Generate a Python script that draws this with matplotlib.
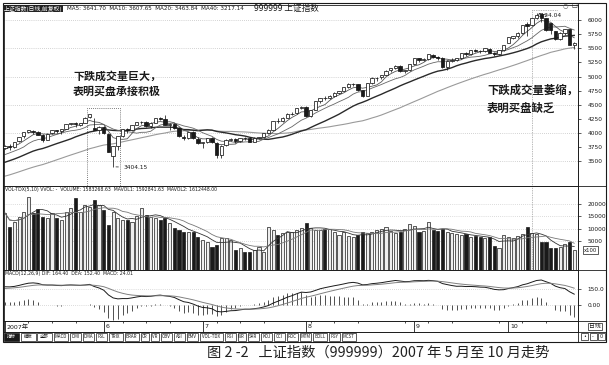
import numpy as np
import pandas as pd
import matplotlib
matplotlib.use('Agg')
import matplotlib.pyplot as plt
from matplotlib.patches import Rectangle
from matplotlib.ticker import MultipleLocator

plt.rcParams['font.family'] = ['DejaVu Sans', 'Noto Sans CJK SC']
CJK = ['Noto Sans CJK SC', 'DejaVu Sans']

# closes before the visible window, only used to warm up MA / MACD
pre_close = [2771.8, 2881.1, 2797.3, 2831.5, 2785.5, 2838.4, 2881.4, 2937.2, 2973.5, 3013.6,
             3015.5, 2906.3, 2937.0, 2864.3, 2949.4, 2999.8, 3057.4, 3071.3, 3092.8, 3171.6,
             3147.6, 3204.7, 3197.2, 3184.0, 3252.6, 3291.3, 3292.6, 3319.1, 3323.6, 3444.7,
             3492.6, 3446.7, 3444.7, 3444.4, 3519.3, 3612.3, 3612.0, 3449.0, 3584.2, 3710.4,
             3757.3, 3739.1]

# daily bars, 2007-04-26 .. 2007-10-26
opens = [3740, 3780, 3750, 3860, 3945, 4020, 4045, 4025, 3960, 3880,
         4000, 4050, 4030, 4075, 4170, 4180, 4150, 4180, 4280, 4087,
         4050, 4110, 3990, 3600, 3770, 3945, 4070, 4050, 4150, 4190,
         4200, 4120, 4185, 4270, 4255, 4145, 4160, 4090, 3940, 3915,
         4020, 3905, 3820, 3840, 3915, 3830, 3610, 3785, 3885, 3895,
         3855, 3915, 3915, 3850, 3915, 3930, 4000, 4060, 4215, 4210,
         4275, 4345, 4350, 4440, 4470, 4300, 4410, 4560, 4630, 4625,
         4665, 4710, 4750, 4810, 4870, 4865, 4760, 4660, 4885, 4975,
         4985, 5035, 5110, 5150, 5180, 5100, 5110, 5220, 5320, 5290,
         5310, 5390, 5350, 5330, 5170, 5280, 5295, 5320, 5420, 5400,
         5465, 5455, 5455, 5495, 5425, 5395, 5470, 5600, 5690, 5715,
         5770, 5930, 5905, 6040, 6100, 6030, 5940, 5800, 5665, 5775,
         5840, 5560]
highs = [3790, 3800, 3845, 3940, 4015, 4060, 4060, 4040, 3990, 4000,
         4055, 4060, 4075, 4170, 4185, 4190, 4185, 4280, 4335, 4275,
         4120, 4120, 4000, 3780, 3945, 4075, 4090, 4150, 4200, 4215,
         4210, 4190, 4270, 4290, 4312, 4180, 4175, 4110, 3970, 4020,
         4030, 3930, 3840, 3920, 3925, 3840, 3790, 3890, 3920, 3910,
         3920, 3930, 3925, 3930, 3940, 4000, 4065, 4215, 4260, 4280,
         4350, 4370, 4445, 4475, 4480, 4410, 4560, 4630, 4660, 4670,
         4720, 4750, 4820, 4880, 4880, 4870, 4770, 4885, 4990, 4995,
         5035, 5110, 5160, 5200, 5200, 5115, 5220, 5325, 5330, 5320,
         5395, 5400, 5360, 5340, 5290, 5320, 5330, 5425, 5440, 5470,
         5480, 5470, 5500, 5510, 5430, 5470, 5560, 5700, 5720, 5780,
         5920, 5960, 6040, 6124.04, 6110, 6040, 5950, 5810, 5780, 5850,
         5850, 5620]
lows = [3720, 3700, 3745, 3850, 3920, 4000, 3990, 3960, 3850, 3870,
        3990, 4010, 3990, 4070, 4140, 4110, 4120, 4175, 4260, 4050,
        3980, 3990, 3660, 3404.15, 3700, 3940, 4000, 4040, 4140, 4160,
        4100, 4090, 4180, 4230, 4140, 4060, 4080, 3930, 3870, 3900,
        3890, 3800, 3740, 3820, 3820, 3563, 3560, 3770, 3860, 3830,
        3850, 3880, 3840, 3845, 3890, 3910, 3980, 4055, 4180, 4200,
        4260, 4320, 4340, 4420, 4290, 4280, 4405, 4540, 4590, 4600,
        4640, 4690, 4740, 4800, 4840, 4750, 4640, 4650, 4870, 4930,
        4950, 5020, 5090, 5130, 5090, 5060, 5100, 5210, 5250, 5270,
        5300, 5320, 5290, 5160, 5120, 5260, 5270, 5310, 5370, 5390,
        5430, 5410, 5440, 5410, 5360, 5380, 5460, 5590, 5660, 5680,
        5760, 5720, 5900, 6010, 5960, 5800, 5750, 5650, 5640, 5730,
        5560, 5480]
closes = [3779, 3749, 3841, 3937, 4013, 4049, 4021, 3966, 3879, 3993,
          4051, 4030, 4072, 4169, 4181, 4154, 4179, 4275, 4334, 4053,
          4109, 4000, 3670, 3767, 3941, 4072, 4049, 4145, 4192, 4200,
          4120, 4183, 4269, 4252, 4146, 4160, 4091, 3941, 3914, 4019,
          3906, 3820, 3836, 3914, 3836, 3615, 3781, 3883, 3899, 3856,
          3915, 3914, 3851, 3912, 3930, 3999, 4058, 4213, 4210, 4275,
          4345, 4345, 4440, 4471, 4300, 4407, 4560, 4628, 4627, 4664,
          4711, 4749, 4811, 4872, 4870, 4765, 4656, 4882, 4977, 4981,
          5032, 5107, 5150, 5194, 5100, 5111, 5218, 5321, 5294, 5310,
          5393, 5355, 5335, 5172, 5283, 5294, 5321, 5421, 5399, 5466,
          5454, 5454, 5497, 5425, 5394, 5468, 5552, 5692, 5715, 5771,
          5913, 5903, 6030, 6092, 6036, 5825, 5818, 5667, 5773, 5843,
          5562, 5589]
# volume in the panel's own (x100) units
volumes = [16300, 10700, 12600, 14700, 16700, 22700, 16300, 17900, 14700, 14300,
           16300, 14300, 13500, 16700, 18300, 22300, 16700, 19500, 18700, 21500,
           19500, 17500, 11500, 16700, 14300, 13500, 13500, 12600, 15000, 18300,
           15500, 14700, 14300, 13500, 14300, 12200, 10200, 9400, 8600, 8600,
           8600, 6600, 5600, 4600, 2600, 3400, 6200, 6200, 5400, 1400,
           2200, 600, 600, 1400, 2600, 600, 10650, 9400, 7400, 8200,
           8600, 8600, 9400, 10500, 12200, 10200, 9400, 9400, 9800, 9800,
           8600, 7400, 8600, 7000, 6600, 7400, 8600, 8200, 8600, 9400,
           9800, 10650, 9000, 8200, 8600, 9800, 11800, 11000, 8600, 9000,
           12600, 9400, 9000, 9800, 8600, 8200, 7800, 7400, 7800, 6600,
           7000, 6600, 6200, 6600, 3000, 2200, 7400, 6600, 6200, 7000,
           8000, 10650, 8200, 7800, 4600, 4600, 2200, 2200, 2600, 3800,
           4600, 1400]

month_labels = ['2007年', '6', '7', '8', '9', '10']
month_starts = [0, 21, 42, 64, 87, 107]
price_ticks = list(range(3500, 6001, 250))
price_grid = list(range(3500, 6001, 500))
vol_ticks = [5000, 10000, 15000, 20000]
macd_ticks = [0, 150]
macd_labels = ['0.00', '150.0']
tab_names = ['指标', '模板', '全部', 'MACD', 'DMI', 'DMA', 'FSL', 'TRIX', 'BRAR', 'CR', 'VR',
             'OBV', 'ASI', 'EMV', 'VOL-TDX', 'RSI', 'WR', 'SAR', 'KDJ', 'CCI', 'ROC', 'MTM',
             'BOLL', 'PSY', 'MCST']

n = len(closes)
x = np.arange(n)
o, h, l, c = (np.array(a, dtype=float) for a in (opens, highs, lows, closes))
up = c >= o
k0 = len(pre_close)

full = pd.Series(pre_close + closes, dtype=float)
mas = {k: full.rolling(k).mean().to_numpy()[k0:] for k in (5, 10, 20, 40)}
dif_s = full.ewm(span=12, adjust=False).mean() - full.ewm(span=26, adjust=False).mean()
dea_s = dif_s.ewm(span=9, adjust=False).mean()
dif = dif_s.to_numpy()[k0:]
dea = dea_s.to_numpy()[k0:]
macd = 2 * (dif - dea)

vs = pd.Series(volumes, dtype=float)
mavol1 = vs.rolling(5, min_periods=1).mean()
mavol2 = vs.rolling(10, min_periods=1).mean()

W, H = 609, 365
fig = plt.figure(figsize=(W / 100, H / 100), dpi=100)
fig.patch.set_facecolor('white')


def px(x0, y0, x1, y1):
    return [x0 / W, 1 - y1 / H, (x1 - x0) / W, (y1 - y0) / H]


ax_p = fig.add_axes(px(4, 5, 578, 185.5))
ax_v = fig.add_axes(px(4, 185.5, 578, 269.5))
ax_m = fig.add_axes(px(4, 269.5, 578, 321))
ax_d = fig.add_axes(px(4, 321, 578, 331.5))

INK = '#1a1a1a'
for ax in (ax_p, ax_v, ax_m, ax_d):
    ax.set_xlim(-0.2, 121.8)
    ax.tick_params(axis='x', bottom=False, labelbottom=False)
    for s in ax.spines.values():
        s.set_linewidth(0.6)
        s.set_color(INK)
    ax.yaxis.tick_right()
    ax.tick_params(axis='y', labelsize=4.2, length=2, width=0.5, pad=5, colors=INK)

# price panel
ax_p.set_ylim(3074, 6266)
ax_p.set_yticks(price_ticks)
ax_p.set_yticklabels([str(t) for t in price_ticks])
ax_p.hlines(price_grid, -0.2, 121.8, colors='#aaaaaa', lw=0.5, linestyles=(0, (1, 2)), zorder=0)
ax_p.plot(x, mas[40], color='#9a9a9a', lw=0.8, zorder=1)
ax_p.plot(x, mas[20], color='#2a2a2a', lw=1.0, zorder=1)
ax_p.plot(x, mas[10], color='#666666', lw=0.6, zorder=1)
ax_p.plot(x, mas[5], color='#555555', lw=0.6, zorder=1)
ax_p.vlines(x, l, h, color=INK, lw=0.55, zorder=2)
ax_p.bar(x, np.abs(c - o), bottom=np.minimum(o, c), width=0.72,
         color=np.where(up, 'white', INK), edgecolor=INK, lw=0.55, zorder=3)

ax_p.add_patch(Rectangle((17.5, 3074), 7, 4440 - 3074, fill=False, ec='#555555',
                         lw=0.6, ls=(0, (1, 1.5)), zorder=4))
ax_p.plot([112.1, 112.1], [3074, 6180], color='#777777', lw=0.5, ls=(0, (1, 1.5)))
ax_p.plot([112.1, 117.5], [6180, 6180], color='#777777', lw=0.5, ls=(0, (1, 1.5)))
ax_p.annotate('6124.04', xy=(113, 6124.04), xytext=(113.3, 6075), fontsize=4.2, color=INK,
              va='center', arrowprops=dict(arrowstyle='-', lw=0.5, color=INK))
ax_p.annotate('3404.15', xy=(23, 3404.15), xytext=(25.3, 3395), fontsize=4.2, color=INK,
              va='center', arrowprops=dict(arrowstyle='-', lw=0.5, color=INK))

# volume panel (bars start at the panel floor)
VOL_FLOOR = -6300
ax_v.set_ylim(VOL_FLOOR, 27300)
ax_v.set_yticks(vol_ticks)
ax_v.set_yticklabels([str(t) for t in vol_ticks])
ax_v.hlines(vol_ticks, -0.2, 121.8, colors='#bbbbbb', lw=0.5, linestyles=(0, (1, 2)), zorder=0)
ax_v.bar(x, np.array(volumes) - VOL_FLOOR, bottom=VOL_FLOOR, width=0.66,
         color=np.where(up, '#eeeeee', INK), edgecolor=INK, lw=0.5, zorder=2)
ax_v.plot(x, mavol1, color='#333333', lw=0.6, zorder=3)
ax_v.plot(x, mavol2, color='#777777', lw=0.6, zorder=3)
ax_v.plot([112.1, 112.1], [VOL_FLOOR, 27300], color='#777777', lw=0.5, ls=(0, (1, 1.5)))

# MACD panel
ax_m.set_ylim(-150, 332)
ax_m.set_yticks(macd_ticks)
ax_m.set_yticklabels(macd_labels)
ax_m.hlines(macd_ticks, -0.2, 121.8, colors='#bbbbbb', lw=0.5, linestyles=(0, (1, 2)), zorder=0)
ax_m.vlines(x, 0, macd, color='#333333', lw=0.6)
ax_m.plot(x, dif, color=INK, lw=0.7)
ax_m.plot(x, dea, color='#808080', lw=0.7)

# date row
ax_d.set_ylim(0, 1)
ax_d.set_yticks([])
ax_d.xaxis.set_minor_locator(MultipleLocator(5))
ax_d.tick_params(axis='x', which='minor', top=True, bottom=False, direction='in', length=1.5, width=0.5)
ax_d.vlines(month_starts, 0, 1, colors=INK, lw=0.6)
for m, lab in zip(month_starts, month_labels):
    ax_d.text(m + 0.35, 0.45, lab, fontsize=4.5, va='center', ha='left', color=INK)

# chrome drawn in pixel coordinates
ax_o = fig.add_axes([0, 0, 1, 1])
ax_o.set_xlim(0, W)
ax_o.set_ylim(H, 0)
ax_o.axis('off')
ax_o.add_patch(Rectangle((3, 3), 603, 338.5, fill=False, ec=INK, lw=0.8))
for yy in (185.5, 269.5, 321, 331.5):
    ax_o.plot([3, 606], [yy, yy], color=INK, lw=0.6)
ax_o.plot([578, 578], [3, 341.5], color=INK, lw=0.6)

ax_o.text(4, 8.5, '上证指数(日线,前复权)', fontsize=4.2, family=CJK, color='white', va='center',
          bbox=dict(boxstyle='square,pad=0.15', fc='#222222', ec='none'))
ax_o.text(67, 8.5, 'MA5: 3641.70  MA10: 3607.65  MA20: 3463.84  MA40: 3217.14',
          fontsize=4.1, color=INK, va='center')
ax_o.text(254, 8.5, '999999 上证指数', fontsize=6.2, color=INK, va='center', family=CJK)
ax_o.text(563, 6, '○', fontsize=4.5, color='#555555', va='center')
ax_o.text(571, 6, '□', fontsize=4.5, color=INK, va='center')
ax_o.text(5, 190, 'VOL-TDX(5,10) VVOL: -  VOLUME: 1583268.63  MAVOL1: 1592841.63  MAVOL2: 1612448.00',
          fontsize=3.3, color=INK, va='center')
ax_o.text(5, 274, 'MACD(12,26,9) DIF: 164.40  DEA: 152.40  MACD: 24.01',
          fontsize=3.3, color=INK, va='center')
ax_o.text(584, 250, 'x100', fontsize=3.8, color=INK, va='center',
          bbox=dict(boxstyle='square,pad=0.2', fc='white', ec=INK, lw=0.5))
ax_o.text(589, 326.5, '日线', fontsize=4.2, family=CJK, color=INK, va='center',
          bbox=dict(boxstyle='square,pad=0.15', fc='white', ec=INK, lw=0.5))

ax_o.text(73, 71, '下跌成交量巨大，\n表明买盘承接积极', fontsize=7.9, family=CJK, weight='bold',
          color=INK, va='top', linespacing=1.5)
ax_o.text(487, 84, '下跌成交量萎缩，\n表明买盘缺乏', fontsize=8.2, family=CJK, weight='bold',
          color=INK, va='top', linespacing=1.5)

# indicator tabs
tx = 4.0
for i, name in enumerate(tab_names):
    w = 15.0 if i < 3 else 2.5 + 3.0 * len(name)
    dark = i == 0
    ax_o.add_patch(Rectangle((tx, 332.5), w, 8, fc=INK if dark else 'white', ec=INK, lw=0.5))
    ax_o.text(tx + w / 2, 336.6, name, fontsize=3.2, ha='center', va='center', family=CJK,
              color='white' if dark else INK)
    tx += w + 1.5
for bx, sym in zip((581, 589.5, 598), ('•', '-', '0')):
    ax_o.add_patch(Rectangle((bx, 332.8), 7, 7.5, fc='white', ec=INK, lw=0.5))
    ax_o.text(bx + 3.5, 336.6, sym, fontsize=3.5, ha='center', va='center', color=INK)

fig.text(378 / W, 1 - 353 / H, '图 2 -2   上证指数（999999）2007 年 5 月至 10 月走势',
         fontsize=10.3, family=CJK, ha='center', va='center', color='#222222')

fig.savefig('out.png', dpi=100)
